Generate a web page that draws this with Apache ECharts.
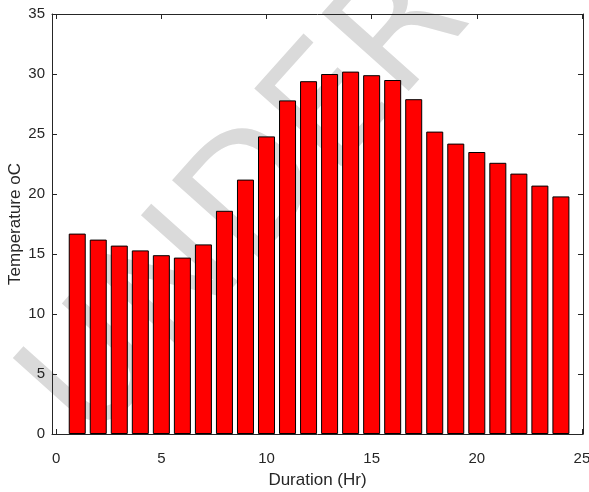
<!DOCTYPE html>
<html>
<head>
<meta charset="utf-8">
<script src="https://cdn.jsdelivr.net/npm/echarts@6/dist/echarts.min.js"></script>
<style>
  html, body { margin: 0; padding: 0; background: #fff; }
  #chart { width: 589px; height: 492px; }
</style>
</head>
<body>
<div id="chart"></div>
<script>
// hours and measured temperature
var hours = [1, 2, 3, 4, 5, 6, 7, 8, 9, 10, 11, 12, 13, 14, 15, 16, 17, 18, 19, 20, 21, 22, 23, 24];
var temps = [16.7, 16.2, 15.7, 15.3, 14.9, 14.7, 15.8, 18.6, 21.2, 24.8, 27.8, 29.4, 30.0, 30.2, 29.9, 29.5, 27.9, 25.2, 24.2, 23.5, 22.6, 21.7, 20.7, 19.8];
var xTicks = [0, 5, 10, 15, 20, 25];

var chart = echarts.init(document.getElementById('chart'), null, { renderer: 'canvas' });

var axisCol = '#262626';
var font = 'Liberation Sans, Arial, Helvetica, sans-serif';

var data = hours.map(function (h, i) { return [h, temps[i]]; });

var xCommon = {
  type: 'value',
  min: -0.2,
  max: 25.05,
  splitLine: { show: false },
  axisLine: { show: true, onZero: false, lineStyle: { color: axisCol, width: 1 } },
  axisTick: { show: true, inside: true, length: 5, customValues: xTicks, lineStyle: { color: axisCol } }
};
var yCommon = {
  type: 'value',
  min: 0,
  max: 35,
  interval: 5,
  splitLine: { show: false },
  axisLine: { show: true, onZero: false, lineStyle: { color: axisCol, width: 1 } },
  axisTick: { show: true, inside: true, length: 5, lineStyle: { color: axisCol } }
};

var option = {
  animation: false,
  backgroundColor: '#fff',
  grid: { left: 52, right: 6, top: 14, bottom: 58, containLabel: false, outerBoundsMode: 'none' },
  graphic: [{
    // faint watermark behind the bars
    type: 'text',
    z: -10,
    x: 0,
    y: 365,
    rotation: 0.84,
    silent: true,
    style: {
      text: 'UNDERT',
      font: '160px "DejaVu Sans", sans-serif',
      fill: '#dadada',
      textBaseline: 'alphabetic'
    }
  }],
  xAxis: [
    Object.assign({}, xCommon, {
      position: 'bottom',
      name: 'Duration (Hr)',
      nameLocation: 'middle',
      nameGap: 38,
      nameMoveOverlap: false,
      nameTextStyle: { color: axisCol, fontSize: 17, fontFamily: font },
      axisLabel: { customValues: xTicks, color: axisCol, fontSize: 15, fontFamily: font, margin: 17 }
    }),
    Object.assign({}, xCommon, {
      position: 'top',
      axisLabel: { show: false }
    })
  ],
  yAxis: [
    Object.assign({}, yCommon, {
      position: 'left',
      name: 'Temperature oC',
      nameLocation: 'middle',
      nameGap: 28,
      nameMoveOverlap: false,
      nameTextStyle: { color: axisCol, fontSize: 17, fontFamily: font },
      axisLabel: { color: axisCol, fontSize: 15, fontFamily: font, margin: 7 }
    }),
    Object.assign({}, yCommon, {
      position: 'right',
      axisLabel: { show: false }
    })
  ],
  series: [{
    type: 'bar',
    data: data,
    barWidth: 17,
    itemStyle: { color: '#ff0000', borderColor: '#000', borderWidth: 1 }
  }]
};

chart.setOption(option);
</script>
</body>
</html>
